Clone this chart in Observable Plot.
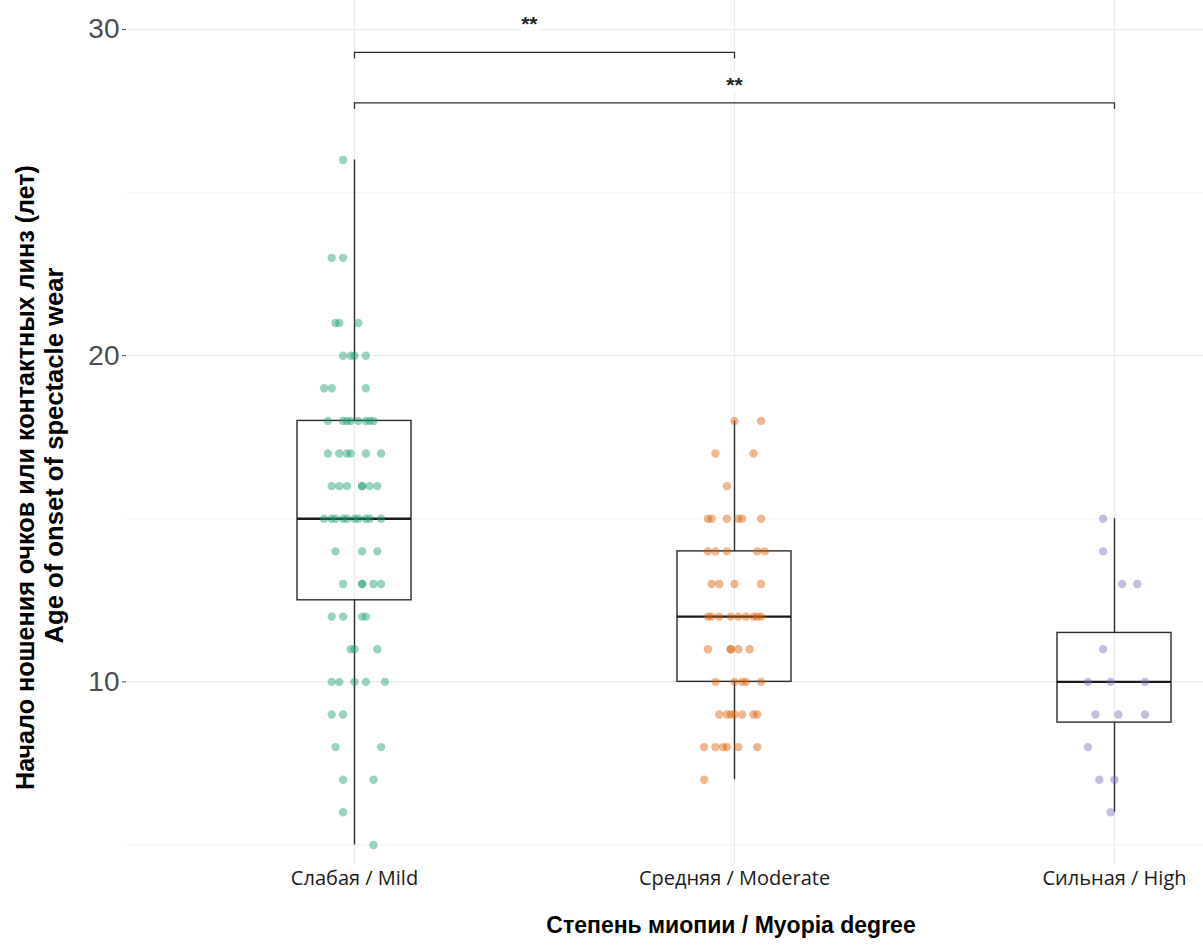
<!DOCTYPE html>
<html><head><meta charset="utf-8">
<script src="https://cdn.jsdelivr.net/npm/d3@7"></script>
<script src="https://cdn.jsdelivr.net/npm/@observablehq/plot@0.6"></script>
<style>body{margin:0;background:#fff;overflow:hidden}</style>
</head><body><div id="chart"></div>
<script>
// ---- data ----
const categories = ["Слабая / Mild", "Средняя / Moderate", "Сильная / High"];
const groupColors = ["#1b9e77", "#d95f02", "#7570b3"];

const mildAge = [26, 23,23, 21,21,21, 20,20,20,20, 19,19,19,
  18,18,18,18,18,18,18,18, 17,17,17,17,17,17, 16,16,16,16,16,16,16,
  15,15,15,15,15,15,15,15,15,15, 14,14,14, 13,13,13,13,13, 12,12,12,12,
  11,11,11, 10,10,10,10,10, 9,9, 8,8, 7,7, 6, 5];
const mildJitter = [-0.03, -0.06,-0.03, -0.05,-0.04,0.01, -0.03,-0.01,0,0.03, -0.08,-0.06,0.03,
  -0.07,-0.03,-0.02,-0.01,0.01,0.03,0.04,0.05, -0.07,-0.04,-0.02,-0.01,0.03,0.07, -0.06,-0.04,-0.02,0.02,0.02,0.04,0.06,
  -0.08,-0.06,-0.05,-0.03,-0.02,0,0.01,0.03,0.04,0.07, -0.05,0.02,0.06, -0.03,0.02,0.02,0.05,0.07, -0.06,-0.03,0.02,0.03,
  -0.01,0,0.06, -0.06,-0.04,0,0.03,0.08, -0.06,-0.03, -0.05,0.07, -0.03,0.05, -0.03, 0.05];

const moderateAge = [18,18, 17,17, 16, 15,15,15,15,15,15, 14,14,14,14,14, 13,13,13,13,
  12,12,12,12,12,12,12,12,12, 11,11,11,11,11, 10,10,10,10,10, 9,9,9,9,9,9,9,
  8,8,8,8,8,8, 7];
const moderateJitter = [0,0.07, -0.05,0.05, -0.02, -0.07,-0.06,-0.02,0.01,0.02,0.07, -0.07,-0.05,-0.02,0.06,0.08, -0.06,-0.04,0,0.07,
  -0.07,-0.06,-0.04,-0.01,0.01,0.03,0.05,0.06,0.07, -0.07,-0.01,-0.01,0.01,0.04, -0.05,0,0.02,0.03,0.07, -0.04,-0.02,-0.01,0,0.02,0.05,0.06,
  -0.08,-0.05,-0.03,-0.02,0.01,0.06, -0.08];

const highAge = [15, 14, 13,13, 11, 10,10,10, 9,9,9, 8, 7,7, 6];
const highJitter = [-0.03, -0.03, 0.02,0.06, -0.03, -0.07,-0.01,0.08, -0.05,0.01,0.08, -0.07, -0.04,0, -0.01];

// box summary per group
const boxQ1 = [12.5, 10, 8.75];
const boxMedian = [15, 12, 10];
const boxQ3 = [18, 14, 11.5];
const whiskerLow = [5, 7, 6];
const whiskerHigh = [26, 18, 15];

// significance brackets
const bracketFrom = [1, 1];
const bracketTo = [2, 3];
const bracketY = [29.3, 27.75];
const bracketLabel = ["**", "**"];
const bracketLabelX = [1.46, 2];
const bracketLabelY = [30.15, 28.3];

const yTicks = [10, 20, 30];
const yMinor = [5, 15, 25];
const yTitle1 = "Начало ношения очков или контактных линз (лет)";
const yTitle2 = "Age of onset of spectacle wear";
const xTitle = "Степень миопии / Myopia degree";

// ---- build tables ----
const ages = [mildAge, moderateAge, highAge];
const jitters = [mildJitter, moderateJitter, highJitter];
const points = [];
ages.forEach((arr, g) => arr.forEach((a, k) => points.push({g, x: g + 1 + jitters[g][k], age: a})));
const stats = categories.map((c, i) => ({pos: i + 1, q1: boxQ1[i], med: boxMedian[i], q3: boxQ3[i], lo: whiskerLow[i], hi: whiskerHigh[i]}));
const boxHalf = 0.15;
const brackets = bracketFrom.map((f, i) => ({from: f, to: bracketTo[i], y: bracketY[i], label: bracketLabel[i], lx: bracketLabelX[i], ly: bracketLabelY[i]}));
const tip = 0.2;
const bracketTips = brackets.flatMap(b => [{x: b.from, y: b.y}, {x: b.to, y: b.y}]);

const chart = Plot.plot({
  width: 1203, height: 945,
  marginTop: 0, marginBottom: 81, marginLeft: 126, marginRight: 0,
  x: {domain: [0.4, 3.6], range: [126, 1342], axis: null},
  y: {domain: [4.4, 30.89], axis: null},
  style: {fontFamily: "'Liberation Sans', Arial, sans-serif", background: "#fff"},
  marks: [
    Plot.ruleY(yMinor, {stroke: "#f4f4f4", strokeWidth: 1}),
    Plot.gridY(yTicks, {stroke: "#ebebeb", strokeOpacity: 1, strokeWidth: 1.2}),
    Plot.gridX([1, 2, 3], {stroke: "#ebebeb", strokeOpacity: 1, strokeWidth: 1.2}),
    Plot.ruleX(stats, {x: "pos", y1: "lo", y2: "q1", stroke: "#2b2b2b", strokeWidth: 1.4}),
    Plot.ruleX(stats, {x: "pos", y1: "q3", y2: "hi", stroke: "#2b2b2b", strokeWidth: 1.4}),
    Plot.rect(stats, {x1: d => d.pos - boxHalf, x2: d => d.pos + boxHalf, y1: "q1", y2: "q3", fill: "none", stroke: "#2b2b2b", strokeWidth: 1.4}),
    Plot.ruleY(stats, {x1: d => d.pos - boxHalf, x2: d => d.pos + boxHalf, y: "med", stroke: "#1a1a1a", strokeWidth: 2.4}),
    Plot.dot(points, {x: "x", y: "age", r: 4.2, fill: d => groupColors[d.g], fillOpacity: 0.45, stroke: "none"}),
    Plot.ruleY(brackets, {x1: "from", x2: "to", y: "y", stroke: "#2b2b2b", strokeWidth: 1.3}),
    Plot.ruleX(bracketTips, {x: "x", y1: "y", y2: d => d.y - tip, stroke: "#2b2b2b", strokeWidth: 1.3}),
    Plot.text(brackets, {x: "lx", y: "ly", text: "label", fontSize: 21, fontWeight: "bold", fill: "#222", stroke: "white", strokeWidth: 12, paintOrder: "stroke"}),
    Plot.axisY(yTicks, {anchor: "left", tickSize: 4, tickPadding: 3, fontSize: 28, color: "#4d4d4d", label: null}),
    Plot.axisX([1, 2, 3], {anchor: "bottom", tickSize: 0, tickPadding: 6, fontSize: 20, fill: "#1a1a1a", fontFamily: "'Open Sans', sans-serif", tickFormat: i => categories[i - 1], label: null}),
    Plot.text([xTitle], {frameAnchor: "bottom", dx: 66, dy: 68, fontSize: 23, fontWeight: "bold", fill: "#000"}),
    Plot.text([yTitle1], {frameAnchor: "left", rotate: -90, dx: -101, dy: 45, fontSize: 25, fontWeight: "bold", fill: "#000", textAnchor: "start"}),
    Plot.text([yTitle2], {frameAnchor: "left", rotate: -90, dx: -72, dy: 23, fontSize: 25, fontWeight: "bold", fill: "#000", textAnchor: "start"})
  ]
});
document.getElementById("chart").appendChild(chart);
// condense the rotated y-axis title lines to the reference's lengths, centred on their anchor
const condense = {[yTitle1]: 625, [yTitle2]: 376};
chart.querySelectorAll("text").forEach(t => {
  const L = condense[t.textContent];
  if (L) {
    t.setAttribute("textLength", L);
    t.setAttribute("lengthAdjust", "spacingAndGlyphs");
    t.setAttribute("x", -L / 2);
  }
});
</script>
</body></html>
